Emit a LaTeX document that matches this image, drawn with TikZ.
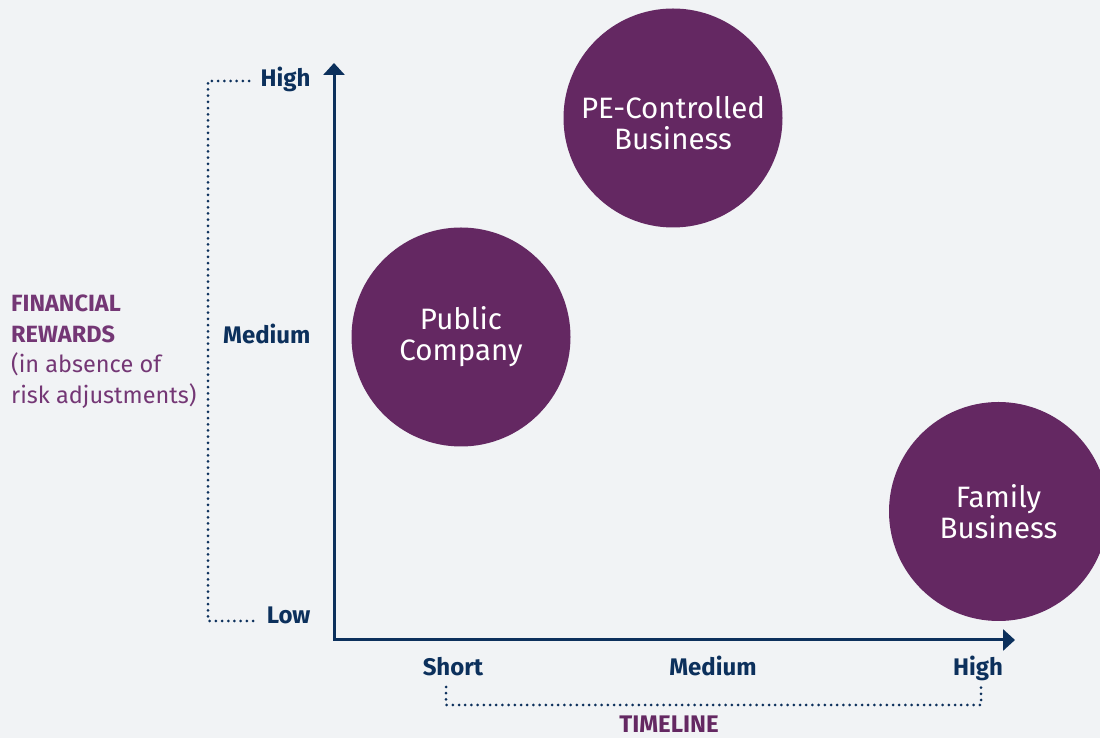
\documentclass[tikz,border=0pt]{standalone}
\usepackage{fontspec}
\setmainfont{Fira Sans}
\usetikzlibrary{arrows.meta}
\usetikzlibrary{positioning}
\definecolor{navy}{RGB}{12,48,92}
\definecolor{plum}{RGB}{100,40,98}
\definecolor{lightplum}{RGB}{116,55,117}
\definecolor{bggrey}{RGB}{241,243,245}

\begin{document}
\begin{tikzpicture}[x=1pt,y=1pt]
		  \tikzset{
			axis/.style={navy,line width=3pt,
			  {Triangle[width=21pt,length=12pt]}-{Triangle[width=21pt,length=12pt]}},
			dots/.style={navy,line width=3pt,line cap=round,dash pattern=on 0pt off 6.2pt},
			lvl/.style={navy,font=\fontsize{24}{28}\selectfont\bfseries},
			bubble/.style={circle,fill=plum,minimum size=219pt,inner sep=0pt,
			  align=center,text=white,font=\fontsize{29.5}{31}\selectfont},
		  }
		  %BACKGROUND
		  \fill[bggrey] (0,0) rectangle (1100,738);
		  \useasboundingbox (0,0) rectangle (1100,738);
		  %AXES
		  \coordinate (O) at (334,98);
		  \coordinate (ytip) at (334,675);
		  \coordinate (xtip) at (1015,98);
		  \draw[axis] (ytip) -- (O) -- (xtip);
		  %LEVELS Y
		  \node[lvl,anchor=base east] (yHigh) at (314,651) {High};
		  \node[lvl,anchor=base east] (yMed) at (314,394) {Medium};
		  \node[lvl,anchor=base east] (yLow) at (314,114) {Low};
		  %LEVELS X
		  \node[lvl,anchor=base] (xShort) at (453,62) {Short};
		  \node[lvl,anchor=base] (xMed) at (713,62) {Medium};
		  \node[lvl,anchor=base] (xHigh) at (978,62) {High};
		  %BRACKET Y
		  \coordinate (bt) at (208,657);
		  \coordinate (bb) at (208,117);
		  \draw[dots] (yHigh.west |- bt) ++(-8,0) -- (bt) -- (bb) -- ([xshift=-8pt]yLow.west |- bb);
		  %BRACKET X
		  \coordinate (bl) at (446,33);
		  \coordinate (br) at (981,33);
		  \draw[dots] (446,51) -- (bl) -- (br) -- (981,51);
		  %AXIS LABELS
		  \node[lightplum,anchor=north west,inner sep=0pt,align=left,
			font=\fontsize{23.5}{30.5}\selectfont] (rewards) at (11,443)
			{\textbf{FINANCIAL}\\\textbf{REWARDS}\\(in absence of\\risk adjustments)};
		  \node[plum,anchor=base,font=\fontsize{24}{28}\selectfont\bfseries] (timeline) at (669,5) {TIMELINE};
		  %BUBBLES
		  \node[bubble] (pe) at (673,620) {};
		  \node[white,align=center,font=\fontsize{29.5}{31}\selectfont] (pelabel) at (673,615) {PE-Controlled\\Business};
		  \node[bubble] (public) at (461,401) {Public\\Company};
		  \node[bubble] (family) at (998.5,226.5) {Family\\Business};
\end{tikzpicture}
\end{document}
